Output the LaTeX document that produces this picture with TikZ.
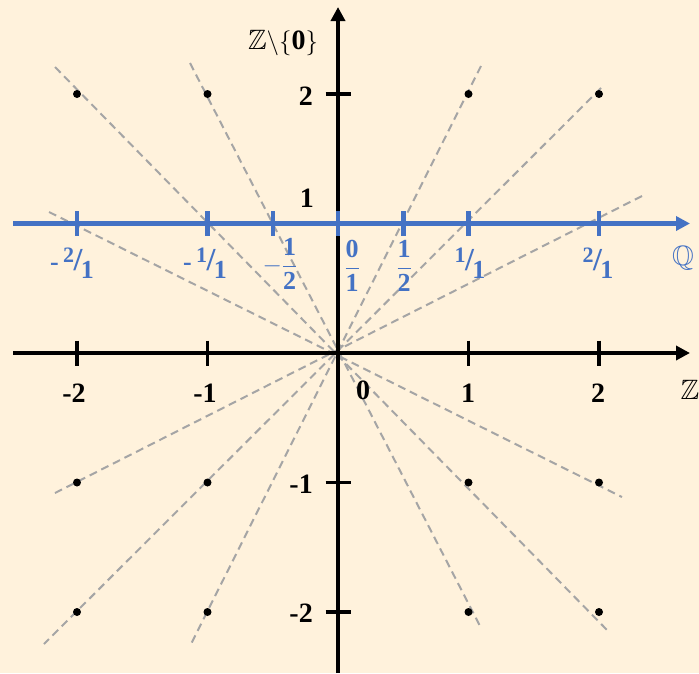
\documentclass[tikz,border=0pt]{standalone}
\usepackage{amsmath,amssymb}
\usepackage{fontspec}
\setmainfont{Liberation Serif}
\usetikzlibrary{arrows.meta}
\definecolor{bg}{RGB}{255,242,220}
\definecolor{qblue}{RGB}{68,114,196}
\definecolor{dgray}{RGB}{165,165,165}
\tikzset{
 ray/.style={draw=dgray, line width=2pt, dash pattern=on 8pt off 5pt},
 axisline/.style={line width=3.5pt, -{Triangle[length=14pt,width=14pt]}},
 qaxis/.style={draw=qblue, line width=4.5pt, -{Triangle[length=14pt,width=14pt]}},
 ticky/.style={line width=3.5pt},
 qtick/.style={draw=qblue, line width=4.5pt},
 dot/.style={circle, fill=black, inner sep=0pt, minimum size=8pt},
 zlab/.style={font=\fontsize{28}{28}\selectfont\bfseries, inner sep=0pt},
 qlab/.style={text=qblue, font=\fontsize{26}{26}\selectfont\bfseries, inner sep=0pt},
}
\newcommand{\nf}[2]{\raisebox{0.33em}{\fontsize{22}{22}\selectfont #1}\kern-0.5pt{\fontsize{32}{32}\selectfont/}\kern-1.5pt\raisebox{-0.3em}{#2}}
\begin{document}
\begin{tikzpicture}[x=1pt,y=-1pt]
\fill[bg] (0,0) rectangle (699,673);
\useasboundingbox (0,0) rectangle (699,673);
% rays
\coordinate (r1a) at (55,67);  \coordinate (r1b) at (608,631);
\coordinate (r2a) at (190,63); \coordinate (r2b) at (480,626);
\coordinate (r3a) at (49,212); \coordinate (r3b) at (622,497);
\coordinate (r4a) at (481,66); \coordinate (r4b) at (191,644);
\coordinate (r5a) at (601,88); \coordinate (r5b) at (44,644);
\coordinate (r6a) at (642,196); \coordinate (r6b) at (55,493);
\foreach \i in {1,...,6} \draw[ray] (r\i a) -- (r\i b);
% axes
\coordinate (O) at (338,353);
\coordinate (xl) at (13,353); \coordinate (xr) at (690,353);
\coordinate (yb) at (338,673); \coordinate (yt) at (338,7);
\draw[axisline] (xl) -- (xr);
\draw[axisline] (yb) -- (yt);
\foreach \x in {77,207.5,468.5,599} \draw[ticky] (\x,340.5) -- (\x,365.5);
\foreach \y in {94,223.5,482.5,612} \draw[ticky] (325.5,\y) -- (350.5,\y);
% Q line
\coordinate (ql) at (13,223.5); \coordinate (qr) at (690,223.5);
\draw[qaxis] (ql) -- (qr);
\foreach \x in {77,207.5,272.8,338,403.3,468.5,599} \draw[qtick] (\x,211) -- (\x,236);
% dots
\foreach \x/\n in {77/a,207.5/b,468.5/c,599/d}{
  \node[dot] (d2\n) at (\x,94) {};
  \node[dot] (dm1\n) at (\x,482.5) {};
  \node[dot] (dm2\n) at (\x,612) {};
}
% Z labels
\node[zlab] (lxm2) at (74,393) {-2};
\node[zlab] (lxm1) at (205,393) {-1};
\node[zlab] (lx0) at (363,390) {0};
\node[zlab] (lx1) at (468,393) {1};
\node[zlab] (lx2) at (598,393) {2};
\node[zlab, anchor=east] (ly2) at (313,96) {2};
\node[zlab, anchor=east] (ly1) at (314,198) {1};
\node[zlab, anchor=east] (lym1) at (313,484) {-1};
\node[zlab, anchor=east] (lym2) at (313,613) {-2};
\node[font=\fontsize{28}{28}\selectfont, inner sep=0pt] (Zl) at (690,390) {$\mathbb{Z}$};
\node[font=\fontsize{28}{28}\selectfont, inner sep=0pt] (Zn) at (283,43) {$\mathbb{Z}\backslash\{\mathbf{0}\}$};
% Q labels
\node[qlab] (qm2) at (72,263) {-\,\nf{2}{1}};
\node[qlab] (qm1) at (205,263) {-\,\nf{1}{1}};
\node[qlab] (qmh) at (280,264) {$-\dfrac{\textbf{1}}{\textbf{2}}$};
\node[qlab] (q0) at (352,266) {$\dfrac{\textbf{0}}{\textbf{1}}$};
\node[qlab] (qh) at (404,266) {$\dfrac{\textbf{1}}{\textbf{2}}$};
\node[qlab] (q1) at (470,263) {\nf{1}{1}};
\node[qlab] (q2) at (598,263) {\nf{2}{1}};
\node[text=qblue, font=\fontsize{28}{28}\selectfont, inner sep=0pt] (Q) at (683,258) {$\mathbb{Q}$};
\end{tikzpicture}
\end{document}
